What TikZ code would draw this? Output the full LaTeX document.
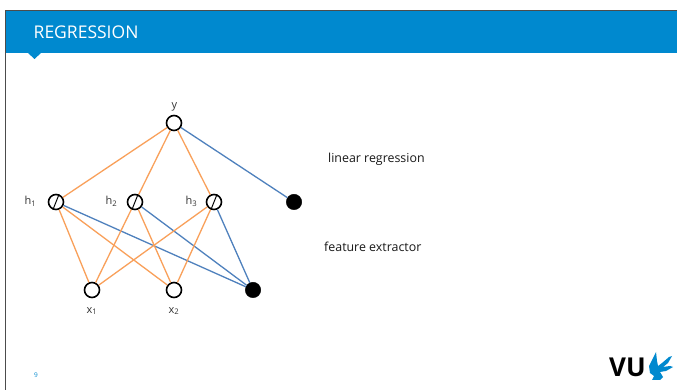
\documentclass[tikz,border=0pt]{standalone}
\usepackage{fontspec}
\setmainfont{Open Sans}
\definecolor{vublue}{HTML}{0089CF}
\definecolor{edgeorange}{HTML}{F9A05A}
\definecolor{edgeblue}{HTML}{4F81BD}
\tikzset{x=1pt,y=1pt,
  neuron/.style={circle,draw=black,line width=1.6pt,fill=white,minimum size=15pt,inner sep=0pt},
  solidn/.style={circle,draw=black,fill=black,minimum size=15.5pt,inner sep=0pt},
  orangeedge/.style={edgeorange,line width=1.3pt},
  blueedge/.style={edgeblue,line width=1.3pt},
  lab/.style={font=\fontsize{11}{13}\selectfont,text=black!80,inner sep=0pt},
  caption/.style={font=\fontsize{12.4}{14}\selectfont,text=black!90,inner sep=0pt,anchor=west}}
\newcommand{\tanhmark}[1]{\draw[black,line width=1pt] ([shift={(-9,-6)}]#1) .. controls ([shift={(-3,-7.5)}]#1) and ([shift={(3,7.5)}]#1) .. ([shift={(9,6)}]#1);}
\newcommand{\subs}[2]{#1\textsubscript{#2}}
\begin{document}
\begin{tikzpicture}
\useasboundingbox (0,0) rectangle (677,390);
\fill[white] (0,0) rectangle (677,390);
\fill[vublue] (6,337) rectangle (677,380);
\fill[vublue] (28,337) -- (41,337) -- (34.5,331) -- cycle;
\draw[black!70,line width=0.8pt] (5.5,0) -- (5.5,380) -- (677,380);
\node[font=\fontsize{17.5}{20}\selectfont,text=white,anchor=west,inner sep=0pt] (title) at (33.5,357.5) {REGRESSION};
\node[neuron] (y) at (174,267) {};
\node[neuron] (h1) at (56,188) {};
\node[neuron] (h2) at (135,188) {};
\node[neuron] (h3) at (214,188) {};
\node[solidn] (b1) at (294,188) {};
\node[neuron] (x1) at (92,100) {};
\node[neuron] (x2) at (174,100) {};
\node[solidn] (b2) at (253,100) {};
\draw[orangeedge] (y) -- (h1);
\draw[orangeedge] (y) -- (h2);
\draw[orangeedge] (y) -- (h3);
\draw[blueedge] (y) -- (b1);
\foreach \h in {h1,h2,h3}{
  \draw[orangeedge] (\h) -- (x1);
  \draw[orangeedge] (\h) -- (x2);
  \draw[blueedge] (\h) -- (b2);
}
\tanhmark{h1}
\tanhmark{h2}
\tanhmark{h3}
\node[lab] (ly) at (174.5,283.5) {y};
\node[lab] (lh1) at (30.5,188.5) {\subs{h}{1}};
\node[lab] (lh2) at (111.5,188.5) {\subs{h}{2}};
\node[lab] (lh3) at (191.5,188.5) {\subs{h}{3}};
\node[lab] (lx1) at (92,79) {\subs{x}{1}};
\node[lab] (lx2) at (174,79) {\subs{x}{2}};
\node[caption] (c1) at (328,230.5) {linear regression};
\node[caption] (c2) at (324,143) {feature extractor};
\node[font=\fontsize{6.5}{8}\selectfont,text=vublue,inner sep=0pt] (pg) at (36,15) {9};
\node[font=\bfseries\fontsize{26}{28}\selectfont,text=black,anchor=west,inner sep=0pt] (vu) at (609,22.5) {VU};
\fill[vublue] (650,17) -- (649,24) -- (653,32) -- (656,38) -- (657,29) -- (658,24) -- (662,27) -- (669,33) -- (672,34) -- (668,27) -- (663,23) -- (670,24) -- (673,23) -- (666,19) -- (660,18) -- (663,13) -- (660,10) -- (652,10) -- (654,14) -- cycle;
\end{tikzpicture}
\end{document}
